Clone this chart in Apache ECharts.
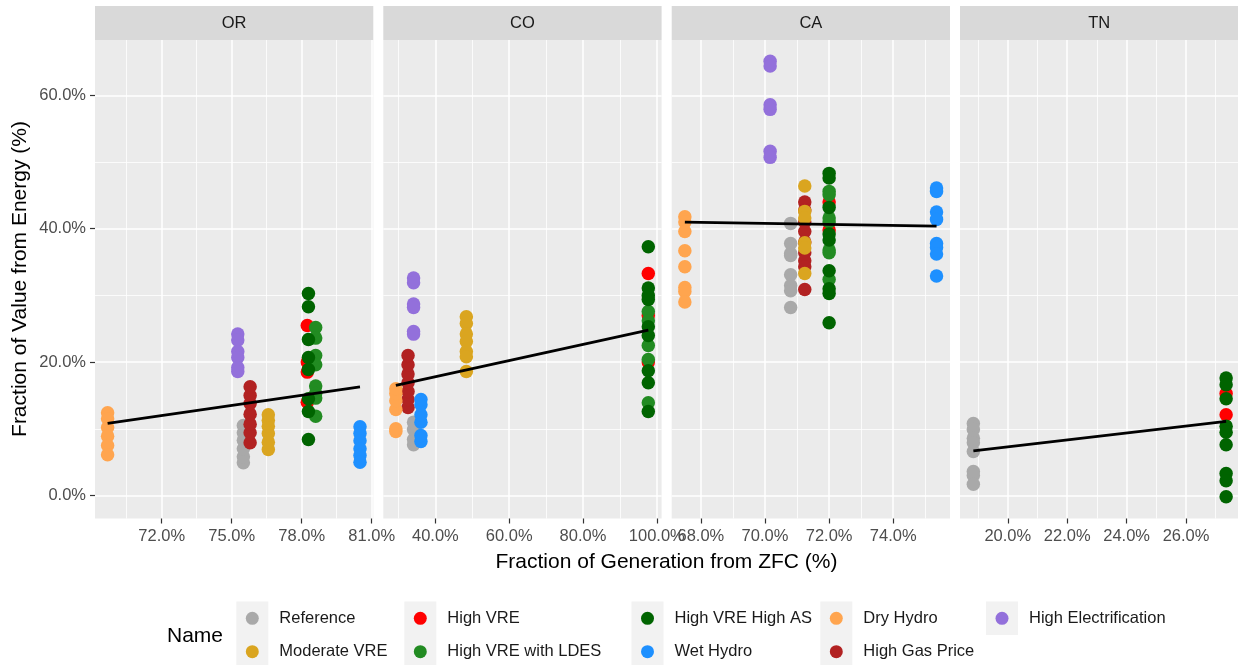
<!DOCTYPE html>
<html>
<head>
<meta charset="utf-8">
<script src="https://cdn.jsdelivr.net/npm/echarts@6/dist/echarts.min.js"></script>
<style>
  html, body { margin: 0; padding: 0; background: #ffffff; }
  #chart { width: 1238px; height: 665px; }
</style>
</head>
<body>
<div id="chart"></div>
<script>
// Scenario names (legend order) and their colours
const scenarios = ['Reference', 'Moderate VRE', 'High VRE', 'High VRE with LDES', 'High VRE High AS',
                   'Wet Hydro', 'Dry Hydro', 'High Gas Price', 'High Electrification'];
const colors = ['#A9A9A9', '#DAA520', '#FF0000', '#228B22', '#006400',
                '#1E90FF', '#FFA54F', '#B22222', '#9370DB'];
// painting order of the scenarios (later ones sit on top)
const drawOrder = [0, 7, 1, 2, 3, 4, 5, 6, 8];

const panels = ['OR', 'CO', 'CA', 'TN'];

// Fraction of generation from ZFC (%) for each scenario, per state (null = not modelled)
const orX = [75.5, 76.57, 78.24, 78.6, 78.29, 80.5, 69.68, 75.79, 75.26];
const coX = [34.1, 48.4, 97.7, 97.7, 97.7, 36.1, 29.3, 32.6, 34.1];
const caX = [70.8, 71.24, 72.0, 72.0, 72.0, 75.35, 67.5, 71.24, 70.16];
const tnX = [18.84, null, 27.35, null, 27.35, null, null, null, null];

// Fraction of value from energy (%) for each scenario, per state
const orY = [
  [4.9, 5.8, 7.0, 8.3, 9.4, 10.5],
  [6.9, 8.0, 9.3, 10.4, 11.3, 12.1],
  [25.5, 20.0, 18.5, 14.0],
  [25.2, 23.6, 21.0, 19.6, 16.4, 15.3, 14.6, 11.9],
  [30.3, 28.3, 23.4, 20.7, 18.9, 14.5, 12.6, 8.4],
  [10.3, 9.3, 8.2, 7.0, 6.0, 5.0],
  [12.4, 11.5, 10.2, 8.9, 7.5, 6.1],
  [7.9, 9.4, 10.7, 12.2, 13.8, 15.0, 16.3],
  [24.2, 23.3, 21.6, 20.7, 19.2, 18.6]
];
const coY = [
  [7.6, 8.4, 9.9, 11.0],
  [26.8, 25.8, 24.2, 23.1, 21.6, 20.8, 18.6],
  [33.3, 27.0, 20.0],
  [27.6, 26.2, 22.5, 20.4, 13.9],
  [37.3, 31.1, 30.0, 29.4, 25.3, 24.0, 18.7, 16.9, 12.6],
  [8.1, 9.0, 11.0, 12.1, 13.6, 14.4],
  [9.6, 10.0, 12.9, 14.2, 15.3, 16.0],
  [13.2, 14.4, 15.6, 16.9, 18.2, 19.6, 21.0],
  [32.6, 31.9, 28.7, 28.2, 24.6, 24.2]
];
const caY = [
  [40.8, 37.8, 36.3, 36.0, 33.1, 31.5, 30.7, 28.2],
  [46.4, 42.6, 41.6, 37.9, 37.1, 33.3],
  [44.0, 39.8],
  [45.6, 45.1, 41.6, 41.0, 36.8, 36.4, 32.4],
  [48.3, 47.6, 43.2, 39.2, 38.3, 33.7, 31.0, 30.3, 25.9],
  [46.1, 45.6, 42.5, 41.4, 37.8, 37.2, 36.2, 32.9],
  [41.8, 41.0, 39.6, 36.7, 34.3, 31.2, 30.6, 29.0],
  [44.0, 42.8, 41.0, 39.6, 38.0, 36.4, 35.2, 34.3, 30.9],
  [65.1, 64.4, 58.6, 57.9, 51.6, 50.7]
];
const tnY = [
  [10.8, 9.9, 8.6, 7.9, 6.6, 3.6, 3.0, 1.7],
  [],
  [15.3, 12.1],
  [],
  [17.6, 16.6, 14.5, 10.4, 9.5, 7.6, 3.3, 2.2, -0.2],
  [], [], [], []
];

// Linear fit end points per state: [x, y]
const orFit = [[69.68, 10.8], [80.5, 16.3]];
const coFit = [[29.3, 16.5], [97.7, 24.8]];
const caFit = [[67.5, 41.0], [75.35, 40.4]];
const tnFit = [[18.84, 6.7], [27.35, 11.1]];

// Axis breaks
const xMajor = [[72, 75, 78, 81], [40, 60, 80, 100], [68, 70, 72, 74], [20, 22, 24, 26]];
const xMinor = [[70.5, 73.5, 76.5, 79.5], [30, 50, 70, 90], [69, 71, 73, 75], [19, 21, 23, 25, 27]];
const yMajor = [0, 20, 40, 60];
const yMinor = [10, 30, 50];

const panelX = [orX, coX, caX, tnX];
const panelY = [orY, coY, caY, tnY];
const panelFit = [orFit, coFit, caFit, tnFit];

// Axis ranges (data range widened a little on each side)
const xMin = [69.14, 25.9, 67.09, 18.39];
const xMax = [81.07, 101.3, 75.77, 27.76];
const yMin = -3.45, yMax = 68.3;

const FONT = '"Liberation Sans", Arial, sans-serif';
const pct = v => v.toFixed(1) + '%';

const panelLeft = [95, 383.3, 671.7, 960];
const panelW = 278.3;
const panelTop = 40;
const panelH = 478.5;

const grid = [], xAxis = [], yAxis = [], series = [], graphic = [];

panels.forEach((name, p) => {
  grid.push({
    show: true, backgroundColor: '#EBEBEB', borderWidth: 0,
    left: panelLeft[p], top: panelTop, width: panelW, height: panelH,
    containLabel: false, outerBoundsMode: 'none'
  });
  // major x axis (labels, ticks, major grid lines)
  xAxis.push({
    type: 'value', gridIndex: p, min: xMin[p], max: xMax[p], position: 'bottom',
    axisLine: { show: false, onZero: false },
    axisTick: { show: true, length: 5, lineStyle: { color: '#333333', width: 1.2 }, customValues: xMajor[p] },
    axisLabel: { show: true, customValues: xMajor[p], formatter: pct, color: '#4D4D4D',
                 fontSize: 16.5, fontFamily: FONT, margin: 9, hideOverlap: false },
    splitLine: { show: true, lineStyle: { color: '#FFFFFF', width: 1.5 } }
  });
  // minor x grid lines
  xAxis.push({
    type: 'value', gridIndex: p, min: xMin[p], max: xMax[p], position: 'bottom',
    axisLine: { show: false, onZero: false },
    axisTick: { show: false, customValues: xMinor[p] },
    axisLabel: { show: false, customValues: xMinor[p] },
    splitLine: { show: true, lineStyle: { color: '#FFFFFF', width: 0.8 } }
  });
  yAxis.push({
    type: 'value', gridIndex: p, min: yMin, max: yMax, position: 'left',
    axisLine: { show: false, onZero: false },
    axisTick: { show: p === 0, length: 5, lineStyle: { color: '#333333', width: 1.2 }, customValues: yMajor },
    axisLabel: { show: p === 0, customValues: yMajor, formatter: pct, color: '#4D4D4D',
                 fontSize: 16.5, fontFamily: FONT, margin: 9 },
    splitLine: { show: true, lineStyle: { color: '#FFFFFF', width: 1.5 } }
  });
  yAxis.push({
    type: 'value', gridIndex: p, min: yMin, max: yMax, position: 'left',
    axisLine: { show: false, onZero: false },
    axisTick: { show: false, customValues: yMinor },
    axisLabel: { show: false, customValues: yMinor },
    splitLine: { show: true, lineStyle: { color: '#FFFFFF', width: 0.8 } }
  });

  drawOrder.forEach(s => {
    const x = panelX[p][s];
    const ys = panelY[p][s];
    if (x === null || !ys.length) return;
    series.push({
      type: 'scatter', name: scenarios[s],
      xAxisIndex: 2 * p, yAxisIndex: 2 * p,
      symbol: 'circle', symbolSize: 13.5,
      itemStyle: { color: colors[s], opacity: 1 },
      data: ys.map(y => [x, y]),
      silent: true, z: 3
    });
  });

  series.push({
    type: 'line', name: 'fit-' + name,
    xAxisIndex: 2 * p, yAxisIndex: 2 * p,
    data: panelFit[p], symbol: 'none', silent: true,
    lineStyle: { color: '#000000', width: 2.8 }, z: 5
  });

  // facet strip
  graphic.push({
    type: 'rect', shape: { x: panelLeft[p], y: 6, width: panelW, height: 34 },
    style: { fill: '#D9D9D9' }, silent: true
  });
  graphic.push({
    type: 'text', x: panelLeft[p] + panelW / 2, y: 23,
    style: { text: name, fill: '#1A1A1A', font: '16.5px ' + FONT, align: 'center', verticalAlign: 'middle' },
    silent: true
  });
});

// axis titles
graphic.push({
  type: 'text', x: 666.5, y: 562,
  style: { text: 'Fraction of Generation from ZFC (%)', fill: '#000000', font: '21px ' + FONT,
           align: 'center', verticalAlign: 'middle' },
  silent: true
});
graphic.push({
  type: 'text', x: 20, y: 279, rotation: Math.PI / 2,
  style: { text: 'Fraction of Value from Energy (%)', fill: '#000000', font: '21px ' + FONT,
           align: 'center', verticalAlign: 'middle' },
  silent: true
});

// legend: title, key backgrounds and five two-row columns
graphic.push({
  type: 'text', x: 167, y: 636,
  style: { text: 'Name', fill: '#000000', font: '21px ' + FONT, align: 'left', verticalAlign: 'middle' },
  silent: true
});
const legendCols = [[0, 1], [2, 3], [4, 5], [6, 7], [8]];
const keyCenterX = [252.3, 420.3, 647.5, 836.3, 1002];
const rowCenterY = [618.3, 651.7];
const legend = [];
legendCols.forEach((col, c) => {
  col.forEach((s, r) => {
    graphic.push({
      type: 'rect',
      shape: { x: keyCenterX[c] - 16, y: rowCenterY[r] - 16.7, width: 32, height: 33.4 },
      style: { fill: '#F2F2F2' }, silent: true, z: -1
    });
  });
  legend.push({
    data: col.map(s => scenarios[s]),
    orient: 'vertical', left: keyCenterX[c] - 6.5, top: rowCenterY[0] - 8.5,
    itemWidth: 13, itemHeight: 13, itemGap: 16.4, icon: 'circle', padding: 0,
    selectedMode: false,
    textStyle: { fontSize: 16.5, fontFamily: FONT, color: '#1A1A1A', lineHeight: 17, padding: [0, 0, 0, 15.5] }
  });
});

const chart = echarts.init(document.getElementById('chart'), null, { renderer: 'canvas' });
chart.setOption({
  animation: false,
  backgroundColor: '#FFFFFF',
  grid, xAxis, yAxis, series, legend, graphic
});
</script>
</body>
</html>
